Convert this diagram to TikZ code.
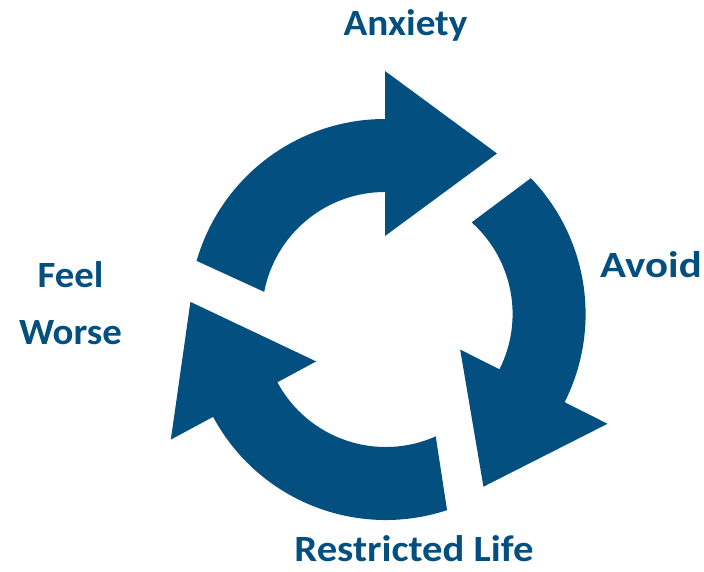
\documentclass[tikz,border=0pt]{standalone}
\usepackage{fontspec}
\setmainfont{Carlito}
\usetikzlibrary{calc}
\definecolor{cycleblue}{RGB}{2,79,128}
\tikzset{
  ringfill/.style={fill=cycleblue, draw=none},
  steplabel/.style={text=cycleblue, font=\fontsize{37}{57.7}\selectfont\bfseries,
    anchor=base, inner sep=0pt, align=center},
}
% One curved arrow of the cycle: #1 centre, #2 outer tail angle,
% #3 inner tail angle, #4 angle of the arrowhead base
\newcommand\ringarrow[4]{%
  \fill[ringfill] ($(#1)+(#2:196pt)$) arc[start angle=#2, end angle=#4, radius=196pt]
    -- ($(#1)+(#4:244pt)$)
    -- ($(#1)+(#4:161.5pt)+({#4-90}:112pt)$)
    -- ($(#1)+(#4:79pt)$)
    -- ($(#1)+(#4:123pt)$) arc[start angle=#4, end angle=#3, radius=123pt]
    -- cycle;}
% Horizontally widened label text
\newcommand\widetext[2]{\scalebox{#1}[1]{#2}}
\begin{document}
\begin{tikzpicture}[x=1pt,y=1pt]
  \useasboundingbox (0,0) rectangle (704,571);
  \coordinate (ctop) at (385,256);
  \coordinate (cright) at (389.6,257);
  \coordinate (cbottom) at (385.7,247);

  \ringarrow{ctop}{163.97}{169.15}{90}
  \ringarrow{cright}{43.88}{48.15}{-26.74}
  \ringarrow{cbottom}{-71.76}{-66.0}{-151.72}

  \node[steplabel] (anxiety) at (405.5,535) {\widetext{1.06}{Anxiety}};
  \node[steplabel] (avoid) at (651,293.5) {\widetext{1.16}{Avoid}};
  \node[steplabel] (restricted) at (414,9.3) {\widetext{1.1}{Restricted Life}};
  \node[steplabel] (worse) at (70.5,226) {\widetext{1.05}{Feel}\\\widetext{1.05}{Worse}};
\end{tikzpicture}
\end{document}
